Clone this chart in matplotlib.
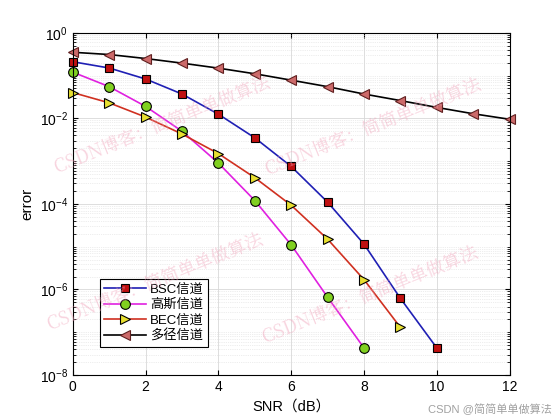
import numpy as np
import matplotlib.pyplot as plt
from matplotlib.ticker import LogLocator, NullFormatter

plt.rcParams['font.family'] = ['Liberation Sans', 'Noto Sans CJK SC', 'DejaVu Sans']
plt.rcParams['mathtext.default'] = 'regular'

# values
snr_bsc = [0, 1, 2, 3, 4, 5, 6, 7, 8, 9, 10]
err_bsc = [0.21, 0.15, 0.083, 0.037, 0.0125, 0.0035, 7.5e-4, 1.1e-4, 1.15e-5, 6.2e-7, 4.3e-8]

snr_gauss = [0, 1, 2, 3, 4, 5, 6, 7, 8]
err_gauss = [0.12, 0.055, 0.019, 0.005, 9e-4, 1.2e-4, 1.1e-5, 6.6e-7, 4.3e-8]

snr_bec = [0, 1, 2, 3, 4, 5, 6, 7, 8, 9]
err_bec = [0.04, 0.023, 0.0107, 0.0043, 0.0015, 4.1e-4, 9.3e-5, 1.5e-5, 1.7e-6, 1.3e-7]

snr_multi = [0, 1, 2, 3, 4, 5, 6, 7, 8, 9, 10, 11, 12]
err_multi = [0.35, 0.31, 0.25, 0.195, 0.149, 0.11, 0.078, 0.055, 0.037, 0.026, 0.018, 0.0128, 0.0095]

labels = ['BSC信道', '高斯信道', 'BEC信道', '多径信道']

fig = plt.figure(figsize=(5.6, 4.2), dpi=100)
ax = fig.add_axes([0.13, 0.107, 0.78, 0.815])

ax.semilogy(snr_bsc, err_bsc, '-s', color='#1f1fb4', lw=1.2, ms=5.5,
            mfc='#c01010', mec='black', mew=0.8, label=labels[0], clip_on=False)
ax.semilogy(snr_gauss, err_gauss, '-o', color='#e020e0', lw=1.2, ms=7,
            mfc='#80d020', mec='black', mew=0.8, label=labels[1], clip_on=False)
ax.semilogy(snr_bec, err_bec, '->', color='#d03020', lw=1.2, ms=7.5,
            mfc='#e8e030', mec='black', mew=0.8, label=labels[2], clip_on=False)
ax.semilogy(snr_multi, err_multi, '-<', color='black', lw=1.2, ms=7.5,
            mfc='#cc6a6a', mec='#602020', mew=0.8, label=labels[3], clip_on=False)

ax.set_xlim(0, 12)
ax.set_ylim(1e-8, 1)
ax.set_xticks(range(0, 13, 2))
ax.set_yticks([1e-8, 1e-6, 1e-4, 1e-2, 1])
ax.yaxis.set_minor_locator(LogLocator(base=10, subs=np.arange(1, 10), numticks=40))
ax.yaxis.set_minor_formatter(NullFormatter())

ax.grid(True, which='major', color='#d8d8d8', lw=0.6)
ax.grid(True, which='minor', color='#dcdcdc', lw=0.5, ls=':')
ax.tick_params(which='both', direction='in', top=True, right=True, labelsize=10)
ax.tick_params(which='minor', length=2)
for s in ax.spines.values():
    s.set_linewidth(0.8)

ax.set_xlabel('SNR（dB）', fontsize=10.5)
ax.set_ylabel('error', fontsize=11)

leg = ax.legend(loc='lower left', bbox_to_anchor=(0.062, 0.082), borderaxespad=0,
                fontsize=9.5, handlelength=3.2, fancybox=False, framealpha=1,
                edgecolor='black', labelspacing=0.25, borderpad=0.3, handletextpad=0.3)
leg.get_frame().set_linewidth(0.8)

# CSDN watermarks
wm = 'CSDN博客：简简单单做算法'
for cx, cy in [(162, 125), (373, 127), (155, 282), (370, 295)]:
    fig.text(cx / 560, 1 - cy / 420, wm, fontsize=13, color='#f0a0b8', alpha=0.45,
             rotation=22, ha='center', va='center', family=['Noto Serif CJK SC', 'Noto Sans CJK SC'])
fig.text(0.985, 0.012, 'CSDN @简简单单做算法', fontsize=8, color='#a0a0a0', ha='right', va='bottom')

fig.savefig('out.png', dpi=100)
